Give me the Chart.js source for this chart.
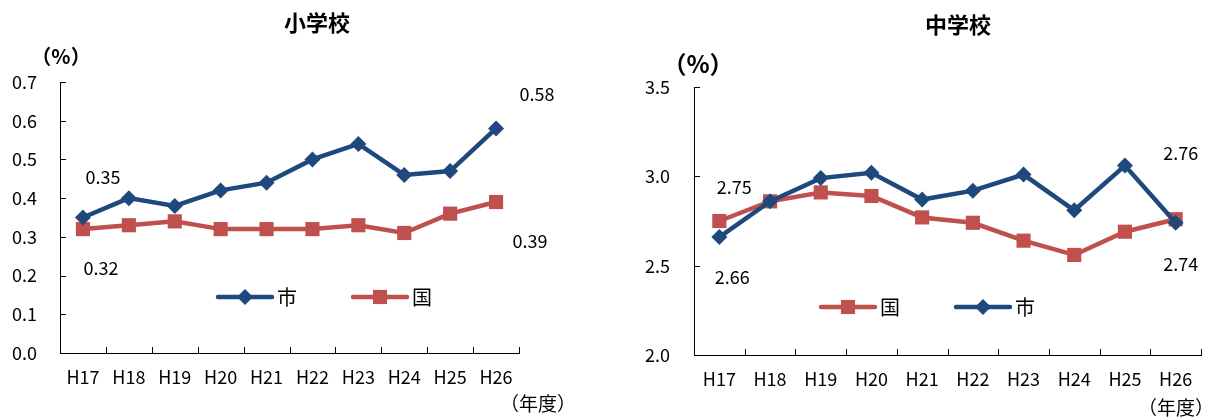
<!DOCTYPE html>
<html>
<head>
<meta charset="utf-8">
<script src="https://cdn.jsdelivr.net/npm/chart.js@4.4.0/dist/chart.umd.min.js"></script>
<style>
  body { margin: 0; background: #fff; width: 1214px; height: 419px; overflow: hidden; position: relative; }
  .box { position: absolute; top: 0; height: 419px; width: 607px; }
</style>
</head>
<body>
<div class="box" style="left:0"><canvas id="sho" width="607" height="419"></canvas></div>
<div class="box" style="left:607px"><canvas id="chu" width="607" height="419"></canvas></div>
<script>
const years = ['H17', 'H18', 'H19', 'H20', 'H21', 'H22', 'H23', 'H24', 'H25', 'H26'];

// 小学校
const shoCity = [0.35, 0.40, 0.38, 0.42, 0.44, 0.50, 0.54, 0.46, 0.47, 0.58];
const shoNation = [0.32, 0.33, 0.34, 0.32, 0.32, 0.32, 0.33, 0.31, 0.36, 0.39];
const shoYTicks = [0.0, 0.1, 0.2, 0.3, 0.4, 0.5, 0.6, 0.7];

// 中学校
const chuCity = [2.66, 2.86, 2.99, 3.02, 2.87, 2.92, 3.01, 2.81, 3.06, 2.74];
const chuNation = [2.75, 2.86, 2.91, 2.89, 2.77, 2.74, 2.64, 2.56, 2.69, 2.76];
const chuYTicks = [2.0, 2.5, 3.0, 3.5];

const BLUE = '#1f497d';
const RED = '#c0504d';
const FONT = '"Noto Sans CJK JP", "Noto Sans", sans-serif';

// 軸の内向き目盛り、データラベル、凡例、見出しなど
const deco = {
  id: 'deco',
  afterDraw(chart, args, o) {
    const { ctx, chartArea: a, scales: { x, y } } = chart;
    ctx.save();
    ctx.strokeStyle = '#000';
    ctx.lineWidth = 1;
    ctx.beginPath();
    y.ticks.forEach(t => {
      const py = Math.round(y.getPixelForValue(t.value)) + 0.5;
      ctx.moveTo(a.left, py);
      ctx.lineTo(a.left + 6, py);
    });
    const half = (x.getPixelForValue(1) - x.getPixelForValue(0)) / 2;
    for (let i = 0; i < years.length; i++) {
      const px = Math.round(x.getPixelForValue(i) + half) + 0.5;
      ctx.moveTo(px, a.bottom);
      ctx.lineTo(px, a.bottom - 6);
    }
    ctx.stroke();

    ctx.fillStyle = '#000';
    ctx.textAlign = 'center';
    ctx.textBaseline = 'middle';

    // タイトル
    ctx.font = 'bold 22px ' + FONT;
    ctx.fillText(o.title, a.left + o.titleDx, o.titleY);

    // 単位
    ctx.font = 'bold ' + o.unitSize + 'px ' + FONT;
    ctx.fillText('（%）', a.left + o.unitDx, a.top + o.unitDy);
    ctx.font = '19px ' + FONT;
    ctx.fillText('（年度）', a.right + o.yearDx, o.yearY);

    // データラベル
    ctx.font = '18px ' + FONT;
    o.labels.forEach(l => {
      const pt = chart.getDatasetMeta(l.ds).data[l.i];
      const v = chart.data.datasets[l.ds].data[l.i];
      ctx.fillText(v.toFixed(2), pt.x + l.dx, pt.y + l.dy);
    });

    // 凡例
    o.legend.forEach(l => {
      const ds = chart.data.datasets[l.ds];
      const x0 = a.left + l.x, yy = a.top + l.y;
      ctx.strokeStyle = ds.borderColor;
      ctx.lineWidth = 4.5;
      ctx.lineCap = 'round';
      ctx.beginPath();
      ctx.moveTo(x0, yy);
      ctx.lineTo(x0 + 54, yy);
      ctx.stroke();
      ctx.fillStyle = ds.borderColor;
      Chart.helpers.drawPoint(ctx, { pointStyle: ds.pointStyle, radius: ds.pointRadius, rotation: 0, borderWidth: 0 }, x0 + 27, yy);
      ctx.fillStyle = '#000';
      ctx.font = '20px ' + FONT;
      ctx.textAlign = 'left';
      ctx.fillText(ds.label, x0 + 59, yy);
      ctx.textAlign = 'center';
    });
    ctx.restore();
  }
};

function makeChart(id, city, nation, ticks, box, opts) {
  const cityDs = {
    label: '市', data: city, borderColor: BLUE, backgroundColor: BLUE,
    borderWidth: 4.5, pointStyle: 'rectRot', pointRadius: 8, pointBorderWidth: 0
  };
  const natDs = {
    label: '国', data: nation, borderColor: RED, backgroundColor: RED,
    borderWidth: 4.5, pointStyle: 'rect', pointRadius: 10, pointBorderWidth: 0
  };
  return new Chart(document.getElementById(id), {
    type: 'line',
    data: { labels: years, datasets: [cityDs, natDs] },
    options: {
      responsive: false,
      animation: false,
      layout: { padding: { top: box.top, right: box.right, left: 0, bottom: 0 } },
      plugins: { legend: { display: false }, tooltip: { enabled: false }, deco: opts },
      scales: {
        x: {
          offset: true,
          grid: { drawOnChartArea: false, drawTicks: false },
          border: { display: true, color: '#000', width: 1 },
          ticks: { color: '#000', padding: 13, font: { family: FONT, size: 18 }, maxRotation: 0, autoSkip: false },
          afterFit: s => { s.height = box.xh; }
        },
        y: {
          min: ticks[0], max: ticks[ticks.length - 1],
          grid: { drawOnChartArea: false, drawTicks: false },
          border: { display: true, color: '#000', width: 1 },
          ticks: {
            stepSize: ticks[1] - ticks[0], color: '#000', padding: box.ypad,
            font: { family: FONT, size: 18 }, callback: v => v.toFixed(1)
          },
          afterFit: s => { s.width = box.yw; }
        }
      }
    },
    plugins: [deco]
  });
}

makeChart('sho', shoCity, shoNation, shoYTicks,
  { top: 82, right: 88, xh: 66, yw: 60, ypad: 23 },
  {
    title: '小学校', titleDx: 257, titleY: 23,
    unitSize: 20, unitDx: 1, unitDy: -26, yearDx: 19, yearY: 404,
    labels: [
      { ds: 0, i: 0, dx: 20, dy: -40 }, { ds: 1, i: 0, dx: 18, dy: 39 },
      { ds: 0, i: 9, dx: 41, dy: -34 }, { ds: 1, i: 9, dx: 34, dy: 39 }
    ],
    legend: [{ ds: 0, x: 158, y: 215 }, { ds: 1, x: 293, y: 215 }]
  });

makeChart('chu', chuCity, chuNation, chuYTicks,
  { top: 87, right: 13, xh: 64, yw: 87, ypad: 24 },
  {
    title: '中学校', titleDx: 264, titleY: 25,
    unitSize: 24, unitDx: 4, unitDy: -23, yearDx: -25, yearY: 408,
    labels: [
      { ds: 1, i: 0, dx: 15, dy: -34 }, { ds: 0, i: 0, dx: 13, dy: 40 },
      { ds: 1, i: 9, dx: 5, dy: -66 }, { ds: 0, i: 9, dx: 5, dy: 41 }
    ],
    legend: [{ ds: 1, x: 127, y: 220 }, { ds: 0, x: 262, y: 220 }]
  });
</script>
</body>
</html>
